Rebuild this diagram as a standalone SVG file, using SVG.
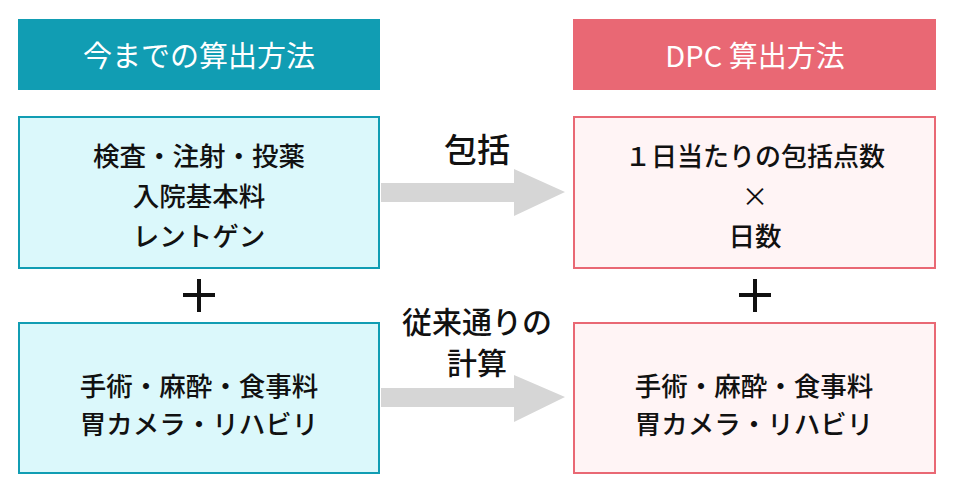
<svg xmlns="http://www.w3.org/2000/svg" width="956" height="490" viewBox="0 0 956 490">
<style>
text{font-family:"Noto Sans CJK JP","Noto Sans",sans-serif;text-anchor:middle;dominant-baseline:central}
.hd{font-size:29px;fill:#fff}
.bt{font-size:26.5px;fill:#111;font-weight:500}
.lb{font-size:30px;fill:#111;font-weight:500}
.pl{stroke:#111;stroke-width:4}
.lbox{fill:#dbf8fb;stroke:#119db3;stroke-width:2}
.rbox{fill:#fff4f5;stroke:#e96874;stroke-width:2}
.arr{fill:#d6d6d6}
</style>
<rect width="956" height="490" fill="#fff"/>
<g id="hdr-left"><rect x="18" y="19" width="362" height="71" fill="#119db3"/><text class="hd" x="199" y="54">今までの算出方法</text></g>
<g id="hdr-right"><rect x="573" y="19" width="363" height="71" fill="#e96874"/><text class="hd" x="755" y="54">DPC 算出方法</text></g>
<g id="left1"><rect class="lbox" x="19" y="117" width="360" height="151"/>
<text class="bt" x="199" y="154">検査・注射・投薬</text>
<text class="bt" x="199" y="194">入院基本料</text>
<text class="bt" x="199" y="234">レントゲン</text></g>
<g id="left2"><rect class="lbox" x="19" y="323" width="360" height="150"/>
<text class="bt" x="199" y="384">手術・麻酔・食事料</text>
<text class="bt" x="199" y="422">胃カメラ・リハビリ</text></g>
<g id="right1"><rect class="rbox" x="574" y="117" width="361" height="151"/>
<text class="bt" x="755" y="154" style="font-size:26px">１日当たりの包括点数</text>
<text class="bt" x="755" y="194" style="font-weight:400">×</text>
<text class="bt" x="755" y="234">日数</text></g>
<g id="right2"><rect class="rbox" x="574" y="323" width="361" height="150"/>
<text class="bt" x="754" y="384">手術・麻酔・食事料</text>
<text class="bt" x="754" y="422">胃カメラ・リハビリ</text></g>
<g id="plus-left"><path class="pl" d="M183 295H215M199 279V312"/></g>
<g id="plus-right"><path class="pl" d="M739 295H771M755 279V312"/></g>
<g id="connectors">
<polygon class="arr" points="381,183 514,183 514,169 565,192 514,216 514,202 381,202"/>
<polygon class="arr" points="381,388 514,388 514,375 565,397 514,422 514,407 381,407"/>
</g>
<text class="lb" x="477" y="148" style="font-size:33px">包括</text>
<text class="lb" x="477" y="320">従来通りの</text>
<text class="lb" x="477" y="361">計算</text>
</svg>
